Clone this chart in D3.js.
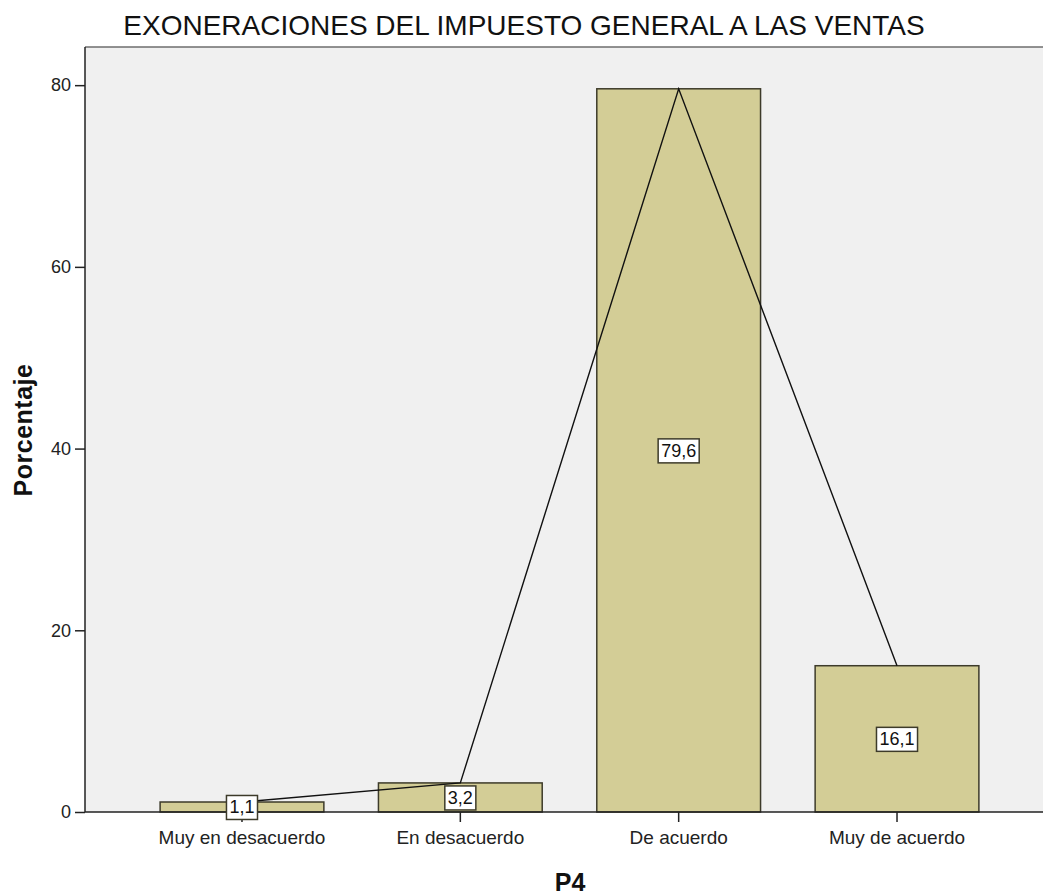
<!DOCTYPE html>
<html>
<head>
<meta charset="utf-8">
<script src="https://cdn.jsdelivr.net/npm/d3@7"></script>
<style>
  body { margin: 0; background: #fff; }
  text { font-family: "Liberation Sans", Arial, sans-serif; }
</style>
</head>
<body>
<svg id="chart" width="1043" height="895"></svg>
<script>
const categorias = ['Muy en desacuerdo', 'En desacuerdo', 'De acuerdo', 'Muy de acuerdo'];
const porcentajes = [1.1, 3.2, 79.6, 16.1];
const etiquetas = ['1,1', '3,2', '79,6', '16,1'];
const ticksY = [0, 20, 40, 60, 80];

const svg = d3.select('#chart');

const x = d3.scaleBand()
  .domain(categorias)
  .range([85, 1054])
  .paddingInner(0.25)
  .paddingOuter(0.344);

const y = d3.scaleLinear()
  .domain([0, 84.2])
  .range([812, 47]);

// fondo del area de grafico
svg.append('rect')
  .attr('x', 85).attr('y', 47)
  .attr('width', 1043 - 85).attr('height', 812 - 47)
  .attr('fill', '#f0f0f0');

svg.append('line')
  .attr('x1', 85).attr('x2', 1043)
  .attr('y1', 47).attr('y2', 47)
  .attr('stroke', '#6e6e6e').attr('stroke-width', 1.5);

// barras
svg.selectAll('rect.bar').data(porcentajes).enter()
  .append('rect')
  .attr('class', 'bar')
  .attr('x', (d, i) => x(categorias[i]))
  .attr('y', d => y(d))
  .attr('width', x.bandwidth())
  .attr('height', d => y(0) - y(d))
  .attr('fill', '#d3cd96')
  .attr('stroke', '#3d3b2a')
  .attr('stroke-width', 1.5);

// linea que une los valores
const linea = d3.line()
  .x((d, i) => x(categorias[i]) + x.bandwidth() / 2)
  .y(d => y(d));

svg.append('path')
  .datum(porcentajes)
  .attr('d', linea)
  .attr('fill', 'none')
  .attr('stroke', '#111')
  .attr('stroke-width', 1.4);

// ejes
const ejeY = svg.append('g')
  .attr('transform', 'translate(85,0)')
  .call(d3.axisLeft(y).tickValues(ticksY).tickSize(10).tickPadding(4));
ejeY.select('.domain').attr('d', `M0,${y(0)}V47`).attr('stroke', '#222').attr('stroke-width', 1.5);
ejeY.selectAll('.tick line').attr('stroke', '#222').attr('stroke-width', 1.5);
ejeY.selectAll('.tick text')
  .style('font-size', '18px')
  .attr('fill', '#222');

const ejeX = svg.append('g')
  .attr('transform', `translate(0,${y(0)})`)
  .call(d3.axisBottom(x).tickSize(10).tickPadding(9));
ejeX.select('.domain').attr('d', `M85,0H1043`).attr('stroke', '#222').attr('stroke-width', 1.5);
ejeX.selectAll('.tick line').attr('stroke', '#222').attr('stroke-width', 1.5);
ejeX.selectAll('.tick text')
  .style('font-size', '19px')
  .attr('fill', '#222');

// etiquetas de valor
const cajas = svg.selectAll('g.valor').data(porcentajes).enter()
  .append('g')
  .attr('class', 'valor')
  .attr('transform', (d, i) => `translate(${x(categorias[i]) + x.bandwidth() / 2},${y(d / 2)})`);

cajas.append('text')
  .attr('text-anchor', 'middle')
  .attr('dy', '0.36em')
  .style('font-size', '18px')
  .attr('fill', '#111')
  .text((d, i) => etiquetas[i]);

cajas.each(function() {
  const g = d3.select(this);
  const bb = g.select('text').node().getBBox();
  g.insert('rect', 'text')
    .attr('x', bb.x - 3).attr('y', bb.y - 2)
    .attr('width', bb.width + 6).attr('height', bb.height + 4)
    .attr('fill', '#fff')
    .attr('stroke', '#3d3b2a')
    .attr('stroke-width', 1.5);
});

// titulos
svg.append('text')
  .attr('x', 524).attr('y', 35)
  .attr('text-anchor', 'middle')
  .style('font-size', '28px')
  .attr('fill', '#111')
  .text('EXONERACIONES DEL IMPUESTO GENERAL A LAS VENTAS');

svg.append('text')
  .attr('transform', 'translate(32,430) rotate(-90)')
  .attr('text-anchor', 'middle')
  .style('font-size', '25px')
  .style('font-weight', 'bold')
  .style('letter-spacing', '0.5px')
  .attr('fill', '#111')
  .text('Porcentaje');

svg.append('text')
  .attr('x', 570).attr('y', 891)
  .attr('text-anchor', 'middle')
  .style('font-size', '25px')
  .style('font-weight', 'bold')
  .attr('fill', '#111')
  .text('P4');
</script>
</body>
</html>
